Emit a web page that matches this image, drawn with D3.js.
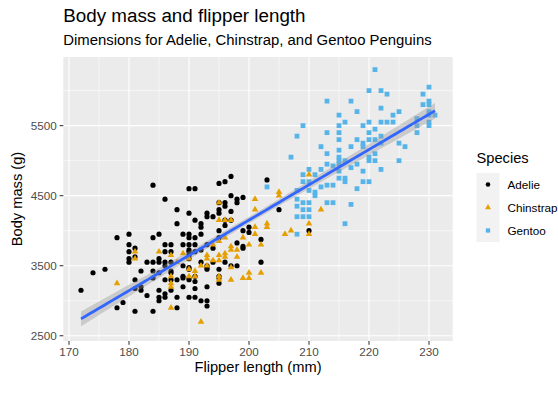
<!DOCTYPE html>
<html>
<head>
<meta charset="utf-8">
<script src="https://cdn.jsdelivr.net/npm/d3@7"></script>
<style>
  html, body { margin: 0; padding: 0; background: #fff; }
  svg { display: block; font-family: "Liberation Sans", Arial, Helvetica, sans-serif; }
</style>
</head>
<body>
<svg id="chart" width="558" height="393"></svg>
<script>
// Penguins: flipper length (mm) vs body mass (g)

const adelie = [
  [172,3150],[174,3400],[176,3450],[178,3900],[178,2900],[179,2975],
  [180,3950],[180,3800],[180,3700],[180,3600],[180,3550],
  [181,3750],[181,3300],[181,2850],[181,3175],[181,3625],
  [182,3425],[182,3200],[182,3150],[183,3075],[183,3550],
  [184,4650],[184,3900],[184,3550],[184,3425],[184,3325],[184,2850],
  [185,3950],[185,3550],[185,3150],[185,3000],[185,3400],[185,3050],[185,3600],
  [186,4450],[186,3800],[186,3700],[186,3550],[186,3100],[186,3300],[186,3050],[186,3500],
  [187,3800],[187,3700],[187,3550],[187,3300],[187,3150],[187,3400],[187,3425],
  [188,4300],[188,4100],[188,3300],[188,3050],[188,2900],
  [189,3800],[189,3200],[189,3500],[189,3950],[189,3350],[189,3325],
  [190,4600],[190,4250],[190,3950],[190,3900],[190,3800],[190,3700],[190,3650],[190,3600],
  [190,3450],[190,3325],[190,3300],[190,3050],[190,3475],[190,3725],
  [191,4600],[191,4150],[191,3900],[191,3800],[191,3700],[191,3350],[191,3275],[191,3175],[191,3050],
  [192,4100],[192,4050],[192,3950],[192,3725],[192,3550],[192,3000],
  [193,4250],[193,4200],[193,3800],[193,3500],[193,3450],[193,3475],[193,3200],[193,2925],[193,3000],
  [194,4200],[194,3750],[194,3550],
  [195,4675],[195,4400],[195,4300],[195,4250],[195,4000],[195,3900],[195,3450],[195,3350],[195,3325],[195,3250],
  [196,4700],[196,4400],[196,4350],[196,4150],[196,4075],[196,3550],
  [197,4775],[197,4500],[197,4275],[197,4150],[197,3500],
  [198,4450],[198,4400],[198,3825],[198,3500],
  [199,4475],[199,4000],[199,3775],[199,3750],
  [200,4050],[200,3975],[202,3875],[202,3550],[203,4725],[205,4300],[210,4000]
];

const chinstrap = [
  [178,3250],[181,3700],[181,3600],[185,3700],[187,3650],[187,3350],[187,3250],[187,3200],
  [187,2900],[188,3550],[189,3675],[190,3600],[190,3450],[190,3350],[191,3425],[191,3350],
  [192,3500],[192,2700],[193,3650],[193,3600],[193,3500],[194,3800],[194,3575],
  [195,4400],[195,4150],[195,3850],[195,3650],[195,3575],[195,3350],[195,3300],
  [196,3900],[196,3675],[196,3625],[196,4150],
  [197,4150],[197,3775],[197,3725],[197,3475],[197,3300],
  [198,3725],[198,3625],[199,3900],[199,3325],
  [200,3800],[200,3400],[200,3325],
  [201,4450],[201,4300],[201,4050],[201,3950],[202,3800],[202,3400],
  [203,4100],[203,4050],[205,4550],[205,4500],[206,3950],[207,4000],
  [210,4800],[210,4100],[210,3950],[212,4300]
];

const gentoo = [
  [203,4625],[207,5050],
  [208,5350],[208,4575],[208,4450],[208,4350],[208,4200],[208,3950],
  [209,5500],[209,4800],[209,4700],[209,4400],[209,4300],[209,4200],
  [210,4875],[210,4700],[210,4575],[210,4400],[210,4300],[210,4200],
  [211,4800],[211,4550],[211,4500],
  [212,5200],[212,4875],[212,4625],
  [213,5850],[213,5400],[213,5100],[213,4950],[213,4650],[213,4400],
  [214,4925],[214,4650],[214,4400],
  [215,5650],[215,5500],[215,5400],[215,5300],[215,5150],[215,5050],[215,4950],[215,4850],[215,4750],[215,5000],
  [216,5550],[216,5000],[216,4750],[216,4700],[216,4100],
  [217,5850],[217,5200],[217,4900],[217,4375],
  [218,5700],[218,5300],[218,4950],[218,4600],
  [219,5500],[219,5250],[219,5200],[219,4850],[219,4700],
  [220,6000],[220,5550],[220,5400],[220,5300],[220,5050],[220,5000],[220,4700],
  [221,6300],[221,5450],[221,5300],[221,5100],[221,5000],
  [222,6000],[222,5750],[222,5550],[222,5350],[222,5250],[222,4875],
  [223,5950],[223,5550],[224,5650],[224,5550],
  [225,5700],[225,5250],[225,5000],[226,5200],
  [228,5600],[228,5500],[228,5400],[229,5950],[229,5800],
  [230,6050],[230,5850],[230,5800],[230,5700],[230,5650],[230,5550],[230,5500],
  [231,5650]
];

const speciesNames = ['Adelie', 'Chinstrap', 'Gentoo'];
const speciesColors = ['#000000', '#E69F00', '#56B4E9'];
const xTicks = [170, 180, 190, 200, 210, 220, 230];
const xMinor = [175, 185, 195, 205, 215, 225];
const yTicks = [2500, 3500, 4500, 5500];
const yMinor = [3000, 4000, 5000, 6000];
const yLimits = [2425, 6480];

const svg = d3.select('#chart');
const panel = { left: 63.3, right: 452.7, top: 57, bottom: 341 };

const allPoints = [...adelie, ...gentoo, ...chinstrap];
const xExtent = d3.extent(allPoints, d => d[0]);
const xPad = (xExtent[1] - xExtent[0]) * 0.05;

const x = d3.scaleLinear()
  .domain([xExtent[0] - xPad, xExtent[1] + xPad])
  .range([panel.left, panel.right]);
const y = d3.scaleLinear()
  .domain(yLimits)
  .range([panel.bottom, panel.top]);

// titles
svg.append('text')
  .attr('x', panel.left).attr('y', 21.5)
  .attr('font-size', 18.8).attr('fill', '#000')
  .text('Body mass and flipper length');
svg.append('text')
  .attr('x', panel.left).attr('y', 44.5)
  .attr('font-size', 14.9).attr('fill', '#000')
  .text('Dimensions for Adelie, Chinstrap, and Gentoo Penguins');

// panel background + grid
svg.append('rect')
  .attr('x', panel.left).attr('y', panel.top)
  .attr('width', panel.right - panel.left).attr('height', panel.bottom - panel.top)
  .attr('fill', '#EBEBEB');

const grid = svg.append('g').attr('stroke', '#fff');
grid.selectAll('.xminor').data(xMinor).join('line')
  .attr('x1', d => x(d)).attr('x2', d => x(d))
  .attr('y1', panel.top).attr('y2', panel.bottom).attr('stroke-width', 0.55);
grid.selectAll('.yminor').data(yMinor).join('line')
  .attr('y1', d => y(d)).attr('y2', d => y(d))
  .attr('x1', panel.left).attr('x2', panel.right).attr('stroke-width', 0.55);
grid.selectAll('.xmajor').data(xTicks).join('line')
  .attr('x1', d => x(d)).attr('x2', d => x(d))
  .attr('y1', panel.top).attr('y2', panel.bottom).attr('stroke-width', 1.1);
grid.selectAll('.ymajor').data(yTicks).join('line')
  .attr('y1', d => y(d)).attr('y2', d => y(d))
  .attr('x1', panel.left).attr('x2', panel.right).attr('stroke-width', 1.1);

// points
const symbolTypes = [d3.symbolCircle, d3.symbolTriangle, d3.symbolSquare];
const symbolSizes = [21, 19, 23];
const pointLayer = svg.append('g');
function drawSpecies(rows, i) {
  const sym = d3.symbol().type(symbolTypes[i]).size(symbolSizes[i]);
  pointLayer.selectAll(null).data(rows).join('path')
    .attr('d', sym)
    .attr('transform', d => `translate(${x(d[0])},${y(d[1])})`)
    .attr('fill', speciesColors[i]);
}
drawSpecies(adelie, 0);
drawSpecies(gentoo, 2);
drawSpecies(chinstrap, 1);

// linear fit with 95% confidence band
const n = allPoints.length;
const mx = d3.mean(allPoints, d => d[0]);
const my = d3.mean(allPoints, d => d[1]);
const sxx = d3.sum(allPoints, d => (d[0] - mx) ** 2);
const sxy = d3.sum(allPoints, d => (d[0] - mx) * (d[1] - my));
const slope = sxy / sxx;
const intercept = my - slope * mx;
const rss = d3.sum(allPoints, d => (d[1] - intercept - slope * d[0]) ** 2);
const sigma = Math.sqrt(rss / (n - 2));
const tq = 1.967;
const fit = d3.range(80).map(i => {
  const xv = xExtent[0] + (xExtent[1] - xExtent[0]) * i / 79;
  const yv = intercept + slope * xv;
  const se = sigma * Math.sqrt(1 / n + (xv - mx) ** 2 / sxx);
  return { x: xv, y: yv, lo: yv - tq * se, hi: yv + tq * se };
});

svg.append('path')
  .datum(fit)
  .attr('d', d3.area().x(d => x(d.x)).y0(d => y(d.lo)).y1(d => y(d.hi)))
  .attr('fill', '#999999').attr('fill-opacity', 0.4);
svg.append('path')
  .datum(fit)
  .attr('d', d3.line().x(d => x(d.x)).y(d => y(d.y)))
  .attr('fill', 'none').attr('stroke', '#3366FF').attr('stroke-width', 2.8);

// axes
const axisColor = '#333333';
const tickText = '#4D4D4D';
const xAxis = svg.append('g');
xAxis.selectAll('line').data(xTicks).join('line')
  .attr('x1', d => x(d)).attr('x2', d => x(d))
  .attr('y1', panel.bottom).attr('y2', panel.bottom + 3.7)
  .attr('stroke', axisColor).attr('stroke-width', 1.07);
xAxis.selectAll('text').data(xTicks).join('text')
  .attr('x', d => x(d)).attr('y', panel.bottom + 15)
  .attr('text-anchor', 'middle').attr('font-size', 11.7).attr('fill', tickText)
  .text(d => d);

const yAxis = svg.append('g');
yAxis.selectAll('line').data(yTicks).join('line')
  .attr('y1', d => y(d)).attr('y2', d => y(d))
  .attr('x1', panel.left - 3.7).attr('x2', panel.left)
  .attr('stroke', axisColor).attr('stroke-width', 1.07);
yAxis.selectAll('text').data(yTicks).join('text')
  .attr('x', panel.left - 6.6).attr('y', d => y(d) + 4.1)
  .attr('text-anchor', 'end').attr('font-size', 11.7).attr('fill', tickText)
  .text(d => d);

svg.append('text')
  .attr('x', (panel.left + panel.right) / 2).attr('y', 372)
  .attr('text-anchor', 'middle').attr('font-size', 14.67)
  .text('Flipper length (mm)');
svg.append('text')
  .attr('transform', `translate(22,${(panel.top + panel.bottom) / 2}) rotate(-90)`)
  .attr('text-anchor', 'middle').attr('font-size', 14.67)
  .text('Body mass (g)');

// legend
const legend = svg.append('g').attr('transform', 'translate(476.5,0)');
legend.append('text')
  .attr('x', 0).attr('y', 163)
  .attr('font-size', 14.67)
  .text('Species');
const keySize = 23;
const keyTop = 173;
const keys = legend.selectAll('.key').data(speciesNames).join('g')
  .attr('transform', (d, i) => `translate(0,${keyTop + i * keySize})`);
keys.append('rect')
  .attr('width', keySize).attr('height', keySize)
  .attr('fill', '#F2F2F2');
keys.append('path')
  .attr('d', (d, i) => d3.symbol().type(symbolTypes[i]).size(symbolSizes[i] * 0.8)())
  .attr('transform', `translate(${keySize / 2},${keySize / 2})`)
  .attr('fill', (d, i) => speciesColors[i]);
keys.append('text')
  .attr('x', 31).attr('y', keySize / 2 + 4.1)
  .attr('font-size', 11.7)
  .text(d => d);
</script>
</body>
</html>
